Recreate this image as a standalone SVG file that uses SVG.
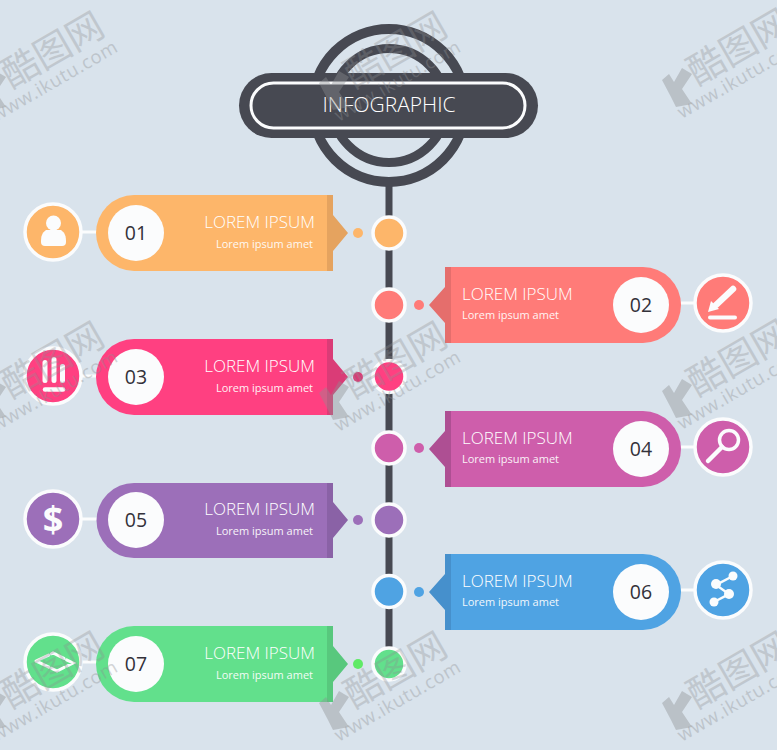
<svg xmlns="http://www.w3.org/2000/svg" width="777" height="750" viewBox="0 0 777 750">
<style>
.ttl{font:300 17px "Open Sans","Noto Sans",sans-serif;fill:#fff}
.sub{font:400 11px "Open Sans","Noto Sans",sans-serif;fill:#fff;opacity:.92}
.num{font:400 19.500px "Open Sans","Noto Sans",sans-serif;fill:#33313a;text-anchor:middle}
.r{text-anchor:end}
.ring{stroke:#fbfcfd;stroke-width:3.500}
.w{fill:#fbfcfd}
.wl{stroke:#fbfcfd;fill:none;stroke-linecap:round}
.wm1{font:37px "Noto Sans CJK SC",sans-serif;fill:#8d8f92;opacity:.32}
.wm2{font:18.500px "Open Sans",sans-serif;fill:#8d8f92;opacity:.36;letter-spacing:.7px}
</style>
<defs>
<g id="mark">
<path d="M-4 71L6 77L-4 92L6 107L-10 110L-15 100L-24 83L-17 77L-12 85Z" fill="#8d8f92" opacity=".4"/>
<text class="wm1" x="11" y="89" transform="rotate(-30 11 89)">酷图网</text>
<text class="wm2" x="-4" y="122" transform="rotate(-30 -4 122)">www.ikutu.com</text>
</g>
</defs>
<rect width="777" height="750" fill="#d9e3ec"/>
<g id="connectors">
<line x1="389" y1="180" x2="389" y2="665" stroke="#474952" stroke-width="7"/>
<g stroke="#fbfcfd" stroke-width="3">
<line x1="82" y1="232" x2="97" y2="232"/>
<line x1="681" y1="303" x2="695" y2="303"/>
<line x1="82" y1="376" x2="97" y2="376"/>
<line x1="681" y1="447" x2="695" y2="447"/>
<line x1="82" y1="519" x2="97" y2="519"/>
<line x1="681" y1="590" x2="695" y2="590"/>
<line x1="82" y1="662" x2="97" y2="662"/>
</g>
</g>
<g id="header">
<circle cx="389" cy="105.500" r="76.500" fill="none" stroke="#474952" stroke-width="10"/>
<circle cx="389" cy="105.500" r="57" fill="none" stroke="#474952" stroke-width="9"/>
<rect x="239" y="73" width="299" height="65" rx="32.500" fill="#474952"/>
<rect x="251" y="83" width="274" height="45" rx="22.500" fill="none" stroke="#fbfcfd" stroke-width="3"/>
<text x="389" y="112" text-anchor="middle" style="font:300 21px 'Open Sans','Noto Sans',sans-serif;fill:#fff">INFOGRAPHIC</text>
</g>
<g id="node-01">
<path d="M134 195H333V271H134a38 38 0 0 1 0-76Z" fill="#fdb66a"/>
<path d="M327 195H333V215L348 233L333 251V271H327Z" fill="#e5a35f"/>
<circle cx="136" cy="233" r="28" class="w"/><text class="num" x="136" y="240">01</text>
<text class="ttl r" x="315" y="228">LOREM IPSUM</text><text class="sub r" x="313" y="248">Lorem ipsum amet</text>
<circle cx="358" cy="233" r="5" fill="#fdb66a"/>
<circle cx="389" cy="233" r="16" fill="#fdb66a" class="ring"/>
<circle cx="53" cy="232" r="28" fill="#fdb66a" class="ring"/>
<circle class="w" cx="53.500" cy="223" r="7.500"/><path class="w" d="M46 230C42 233 41 236 41 242Q41 246 45 246H62Q66 246 66 242C66 236 65 233 61 230Z"/>
</g>
<g id="node-02">
<path d="M643 267H445V343H643a38 38 0 0 0 0-76Z" fill="#ff7b78"/>
<path d="M451 267H445V287L429 305L445 323V343H451Z" fill="#e56e6c"/>
<circle cx="641" cy="305" r="28" class="w"/><text class="num" x="641" y="312">02</text>
<text class="ttl" x="462" y="300">LOREM IPSUM</text><text class="sub" x="462" y="319">Lorem ipsum amet</text>
<circle cx="419" cy="305" r="5" fill="#ff7b78"/>
<circle cx="389" cy="305" r="16" fill="#ff7b78" class="ring"/>
<circle cx="723" cy="303" r="28" fill="#ff7b78" class="ring"/>
<path class="wl" stroke-width="6.500" d="M716 305L733 289"/><path class="w" d="M708 312L711 301L719 309Z"/><path class="wl" stroke-width="4" d="M710 317.500H735"/>
</g>
<g id="node-03">
<path d="M134 339H333V415H134a38 38 0 0 1 0-76Z" fill="#ff4081"/>
<path d="M327 339H333V359L348 377L333 395V415H327Z" fill="#da3c77"/>
<circle cx="136" cy="377" r="28" class="w"/><text class="num" x="136" y="384">03</text>
<text class="ttl r" x="315" y="372">LOREM IPSUM</text><text class="sub r" x="313" y="392">Lorem ipsum amet</text>
<circle cx="358" cy="377" r="5" fill="#da3c77"/>
<circle cx="389" cy="376.500" r="16" fill="#ff4081" class="ring"/>
<circle cx="53" cy="376" r="28" fill="#ff4081" class="ring"/>
<path class="wl" stroke-width="5" d="M45 362.500V380.500M54 359.500V380.500M62.500 366.500V380.500"/><path class="wl" stroke-width="4.500" d="M45 389.500H63"/>
</g>
<g id="node-04">
<path d="M643 411H445V487H643a38 38 0 0 0 0-76Z" fill="#ce5eab"/>
<path d="M451 411H445V431L429 449L445 467V487H451Z" fill="#ae4f93"/>
<circle cx="641" cy="449" r="28" class="w"/><text class="num" x="641" y="456">04</text>
<text class="ttl" x="462" y="444">LOREM IPSUM</text><text class="sub" x="462" y="463">Lorem ipsum amet</text>
<circle cx="419" cy="448" r="5" fill="#ce5eab"/>
<circle cx="389" cy="448" r="16" fill="#ce5eab" class="ring"/>
<circle cx="723" cy="447" r="28" fill="#ce5eab" class="ring"/>
<circle class="wl" stroke-width="3.500" cx="729" cy="440" r="9.500"/><path class="wl" stroke-width="4.500" d="M722 447L708 461"/>
</g>
<g id="node-05">
<path d="M134 483H333V558H134a37.500 37.500 0 0 1 0-75Z" fill="#9c6fb9"/>
<path d="M327 483H333V502L348 520L333 538V558H327Z" fill="#8a62a6"/>
<circle cx="136" cy="520" r="28" class="w"/><text class="num" x="136" y="527">05</text>
<text class="ttl r" x="315" y="515">LOREM IPSUM</text><text class="sub r" x="313" y="535">Lorem ipsum amet</text>
<circle cx="358" cy="520" r="5" fill="#9c6fb9"/>
<circle cx="389" cy="520" r="16" fill="#9c6fb9" class="ring"/>
<circle cx="53" cy="519" r="28" fill="#9c6fb9" class="ring"/>
<text x="53" y="532" text-anchor="middle" style="font:700 36px 'Open Sans',sans-serif;fill:#fbfcfd">$</text>
</g>
<g id="node-06">
<path d="M643 554H445V630H643a38 38 0 0 0 0-76Z" fill="#4fa3e3"/>
<path d="M451 554H445V574L429 592L445 610V630H451Z" fill="#4690cc"/>
<circle cx="641" cy="592" r="28" class="w"/><text class="num" x="641" y="599">06</text>
<text class="ttl" x="462" y="587">LOREM IPSUM</text><text class="sub" x="462" y="606">Lorem ipsum amet</text>
<circle cx="419" cy="592" r="5" fill="#4fa3e3"/>
<circle cx="389" cy="591.500" r="16" fill="#4fa3e3" class="ring"/>
<circle cx="723" cy="590" r="28" fill="#4fa3e3" class="ring"/>
<path class="wl" stroke-width="2.500" d="M733 576L716 585L729 594L714 602"/>
<circle class="w" cx="733" cy="576" r="4.500"/><circle class="w" cx="716" cy="584" r="5"/><circle class="w" cx="729" cy="594" r="5"/><circle class="w" cx="714" cy="602" r="4.500"/>
</g>
<g id="node-07">
<path d="M134 626H333V702H134a38 38 0 0 1 0-76Z" fill="#62e08c"/>
<path d="M327 626H333V646L348 664L333 682V702H327Z" fill="#58c87d"/>
<circle cx="136" cy="664" r="28" class="w"/><text class="num" x="136" y="671">07</text>
<text class="ttl r" x="315" y="659">LOREM IPSUM</text><text class="sub r" x="313" y="679">Lorem ipsum amet</text>
<circle cx="358" cy="664" r="5" fill="#5fea66"/>
<circle cx="389" cy="664" r="16" fill="#62e08c" class="ring"/>
<circle cx="53" cy="662" r="28" fill="#62e08c" class="ring"/>
<path class="wl" stroke-width="3" stroke-dasharray="14 3" d="M36 661L53 653L73 663L57 671Z"/>
</g>
<g id="watermarks">
<use href="#mark"/><use href="#mark" x="343"/><use href="#mark" x="686" y="-3"/>
<use href="#mark" y="310"/><use href="#mark" x="343" y="310"/><use href="#mark" x="686" y="308"/>
<use href="#mark" y="620"/><use href="#mark" x="343" y="620"/><use href="#mark" x="686" y="620"/>
</g>
</svg>
